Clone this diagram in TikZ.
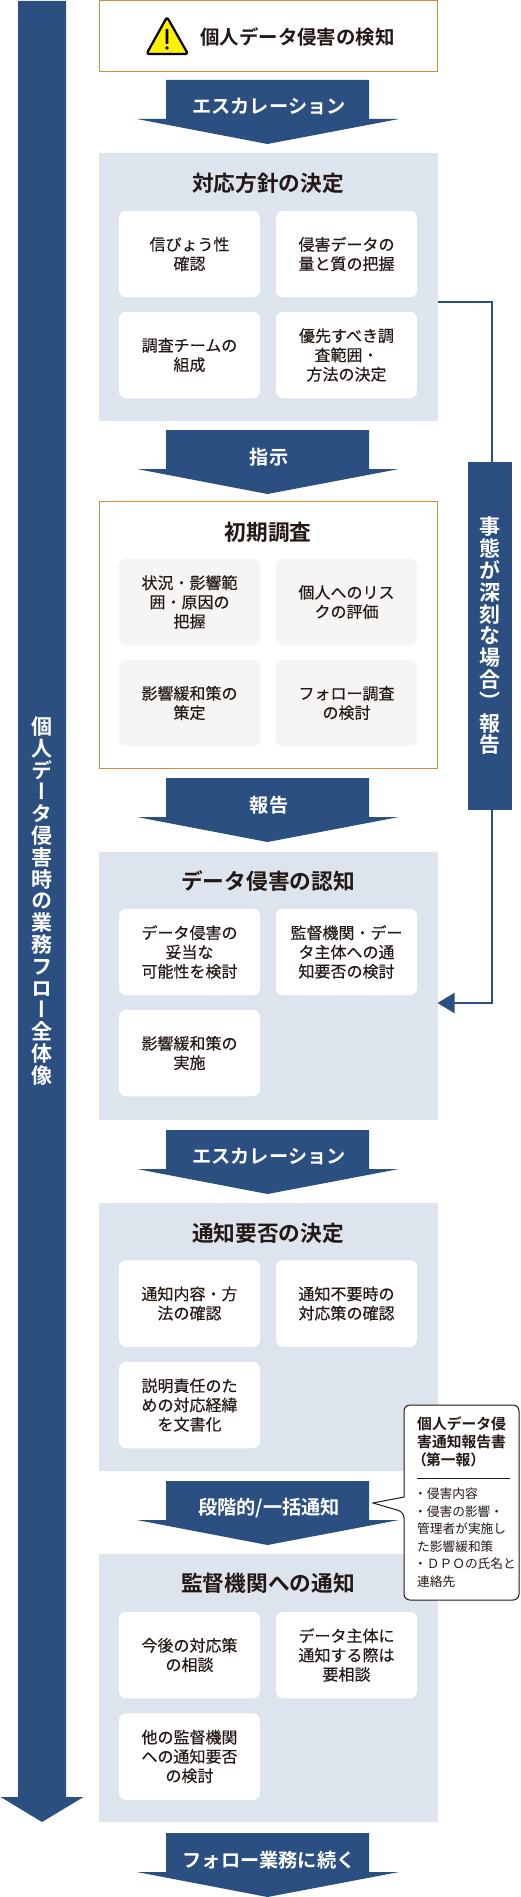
\documentclass[tikz,border=0pt]{standalone}
\usepackage{fontspec}
\usetikzlibrary{arrows.meta}
\setmainfont{Noto Sans CJK JP}[BoldFont={Noto Sans CJK JP Bold}]
\newfontfamily\jpm{Noto Sans CJK JP}[FakeBold=0.2]
\newfontfamily\jpv{Noto Sans CJK JP Bold}[RawFeature=+vert]
\definecolor{navy}{HTML}{2B4F81}
\definecolor{panelbg}{HTML}{DEE4ED}
\definecolor{orangeline}{HTML}{D98B3A}
\definecolor{softgrey}{HTML}{F6F5F3}
\definecolor{ink}{HTML}{231815}
\definecolor{warnyellow}{HTML}{FFF000}
\tikzset{
  panel/.style={rectangle,fill=panelbg,minimum width=338.5pt,minimum height=268pt,inner sep=0pt,outer sep=0pt},
  framed/.style={rectangle,draw=orangeline,line width=1pt,fill=white,minimum width=338.5pt,inner sep=0pt,outer sep=0pt},
  card/.style={rectangle,rounded corners=7pt,fill=white,minimum width=141pt,minimum height=86.5pt,inner sep=0pt,align=center,text=ink,font=\jpm\fontsize{16}{19.3}\selectfont},
  greycard/.style={card,fill=softgrey},
  paneltitle/.style={inner sep=0pt,text=ink,font=\bfseries\fontsize{21.7}{26}\selectfont},
  arrowlabel/.style={inner sep=0pt,text=white,font=\bfseries\fontsize{19.2}{23}\selectfont},
  vlabel/.style={inner sep=0pt,align=center,text=white,font=\jpv\fontsize{21}{21.8}\selectfont},
  link/.style={draw=navy,line width=2pt},
}
\newcommand{\flowarrow}[3]{%
  \fill[navy] (166,#1) -- (369,#1) -- (369,#1+39) -- (399,#1+39) -- (267.5,#1+64) -- (137,#1+39) -- (166,#1+39) -- cycle;
  \node[arrowlabel] (#2) at (269,#1+27) {#3};
}
\newcommand{\tightdot}{\hspace*{-3pt}・}
\begin{document}
\begin{tikzpicture}[x=1pt,y=-1pt]
\useasboundingbox (0,0) rectangle (520,1897);

% long flow arrow
\fill[navy] (18,1) -- (66,1) -- (66,1797) -- (83.5,1797) -- (42,1822) -- (0.7,1797) -- (18,1797) -- cycle;
\node[vlabel] (flowtext) at (42,901) {個\\人\\デ\\ー\\タ\\侵\\害\\時\\の\\業\\務\\フ\\ロ\\ー\\全\\体\\像};

% detection box
\node[framed,minimum height=71pt] (detect) at (268.25,36.5) {};
\fill[warnyellow,draw=black,line width=2.2pt,line join=round,rounded corners=2.5pt] (167,17) -- (188,54) -- (146.5,54) -- cycle;
\fill[black,rounded corners=0.6pt] (165.6,29) rectangle (168.4,44);
\fill[black] (167,48) circle (1.8);
\node[inner sep=0pt,text=ink,font=\bfseries\fontsize{19.4}{23}\selectfont] (detecttext) at (297.5,36.5) {個人データ侵害の検知};

\flowarrow{80}{a1}{エスカレーション}

% panel 1
\node[panel] (p1) at (268.25,287) {};
\node[paneltitle] (t1) at (268,183) {対応方針の決定};
\node[card] (c11) at (189.5,254) {信ぴょう性\\確認};
\node[card] (c12) at (346.5,254) {侵害データの\\量と質の把握};
\node[card] (c13) at (189.5,355) {調査チームの\\組成};
\node[card] (c14) at (346.5,355) {優先すべき調\\査範囲・\\方法の決定};

\flowarrow{430}{a2}{指示}

% box 2
\node[framed,minimum height=267pt] (p2) at (268.25,635) {};
\node[paneltitle] (t2) at (268,532) {初期調査};
\node[greycard] (c21) at (189.5,602) {状況・影響範\\囲・原因の\\把握};
\node[greycard] (c22) at (346.5,602) {個人へのリス\\クの評価};
\node[greycard] (c23) at (189.5,703) {影響緩和策の\\策定};
\node[greycard] (c24) at (346.5,703) {フォロー調査\\の検討};

\flowarrow{778}{a3}{報告}

% panel 3
\node[panel] (p3) at (268.25,985.5) {};
\node[paneltitle] (t3) at (268,881) {データ侵害の認知};
\node[card] (c31) at (189.5,952) {データ侵害の\\妥当な\\可能性を検討};
\node[card] (c32) at (346.5,952) {監督機関・デー\\タ主体への通\\知要否の検討};
\node[card] (c33) at (189.5,1053) {影響緩和策の\\実施};

\flowarrow{1130}{a4}{エスカレーション}

% panel 4
\node[panel] (p4) at (268.25,1337) {};
\node[paneltitle] (t4) at (268,1233) {通知要否の決定};
\node[card] (c41) at (189.5,1303.5) {通知内容・方\\法の確認};
\node[card] (c42) at (346.5,1303.5) {通知不要時の\\対応策の確認};
\node[card] (c43) at (189.5,1405) {説明責任のた\\めの対応経緯\\を文書化};

\flowarrow{1481}{a5}{段階的/一括通知}

% panel 5
\node[panel] (p5) at (268.25,1688) {};
\node[paneltitle] (t5) at (268,1583) {監督機関への通知};
\node[card] (c51) at (189.5,1655) {今後の対応策\\の相談};
\node[card] (c52) at (346.5,1655) {データ主体に\\通知する際は\\要相談};
\node[card] (c53) at (189.5,1756.5) {他の監督機関\\への通知要否\\の検討};

\flowarrow{1833}{a6}{フォロー業務に続く}

% side report bar and connectors
\node[rectangle,fill=navy,minimum width=44pt,minimum height=348pt,inner sep=0pt,outer sep=0pt,vlabel] (side) at (490,636) {事\\態\\が\\深\\刻\\な\\場\\合\\）\\報\\告};
\coordinate (out1) at (437.5,302);
\coordinate (in3) at (437.5,1003);
\coordinate (sidetop) at (492,462);
\coordinate (sidebot) at (492,810);
\draw[link] (out1) -| (sidetop);
\draw[link,-{Triangle[length=17pt,width=20pt]}] (sidebot) |- (in3);

% callout
\path[fill=white,draw=ink,line width=1pt,rounded corners=6pt] (404,1450) -- (404,1405) -- (519,1405) -- (519,1600) -- (404,1600) -- (404,1512) [sharp corners] -- (373,1503) -- (404,1497) -- cycle;
\node[inner sep=0pt,anchor=north west,align=left,text=ink,font=\bfseries\fontsize{14.8}{18}\selectfont] (ct) at (417,1416) {個人データ侵\\害通知報告書\\\hspace*{-5pt}（\hspace{-1pt}第一報）};
\coordinate (rulea) at (417,1478);
\coordinate (ruleb) at (510,1478);
\draw[ink,line width=0.7pt] (rulea) -- (ruleb);
\node[inner sep=0pt,anchor=north west,align=left,text=ink,font=\fontsize{12.7}{17.5}\selectfont] (cb) at (417,1488) {\tightdot 侵害内容\\\tightdot 侵害の影響・\\管理者が実施し\\た影響緩和策\\\tightdot ＤＰＯの氏名と\\連絡先};
\end{tikzpicture}
\end{document}
